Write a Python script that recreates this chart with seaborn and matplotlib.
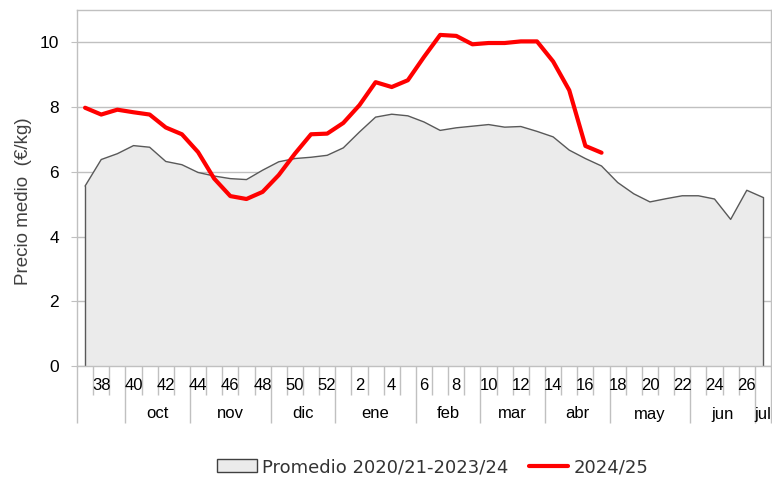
import numpy as np
import pandas as pd
import matplotlib
matplotlib.use("Agg")
import matplotlib.pyplot as plt
import seaborn as sns
from matplotlib.patches import Patch
from matplotlib.lines import Line2D
import matplotlib.transforms as mtrans

weeks = list(range(37, 53)) + list(range(1, 28))
avg = [5.56, 6.38, 6.56, 6.81, 6.76, 6.32, 6.22, 5.98, 5.87, 5.79, 5.76, 6.05,
       6.31, 6.41, 6.45, 6.51, 6.74, 7.23, 7.69, 7.78, 7.73, 7.54, 7.28, 7.36,
       7.41, 7.46, 7.38, 7.40, 7.25, 7.08, 6.67, 6.41, 6.18, 5.67, 5.32, 5.07,
       5.17, 5.26, 5.26, 5.16, 4.53, 5.43, 5.21]
cur = [7.98, 7.77, 7.92, 7.84, 7.77, 7.37, 7.16, 6.61, 5.79, 5.25, 5.16, 5.38,
       5.90, 6.56, 7.16, 7.18, 7.51, 8.06, 8.77, 8.62, 8.83, 9.55, 10.23, 10.20,
       9.94, 9.98, 9.98, 10.03, 10.03, 9.41, 8.52, 6.80, 6.59]
months = ["", "oct", "nov", "dic", "ene", "feb", "mar", "abr", "may", "jun", "jul"]
month_weeks = [3, 4, 5, 4, 5, 4, 4, 4, 5, 4, 1]  # number of weeks per month block

labels = ["Promedio 2020/21-2023/24", "2024/25"]

sns.set_style("white")
plt.rcParams["font.family"] = ["Liberation Sans", "DejaVu Sans"]

idx = np.arange(len(weeks))
df_avg = pd.DataFrame({"i": idx, "v": avg})
df_cur = pd.DataFrame({"i": idx[:len(cur)], "v": cur})

fig = plt.figure(figsize=(7.72, 4.78), dpi=100)
ax = fig.add_axes([77 / 772, 1 - 366 / 478, 694 / 772, 356 / 478])

grid_c = "#c0c0c0"
ax.fill_between(idx, avg, 0, color="#ebebeb", edgecolor="none", zorder=1)
ax.plot([idx[0], idx[0]], [0, avg[0]], color="#595959", lw=1, zorder=2)
ax.plot([idx[-1], idx[-1]], [0, avg[-1]], color="#595959", lw=1, zorder=2)
sns.lineplot(data=df_avg, x="i", y="v", ax=ax, color="#595959", lw=1, zorder=2)
sns.lineplot(data=df_cur, x="i", y="v", ax=ax, color="#ff0000", lw=3, zorder=3)

ax.set_xlim(-0.5, len(weeks) - 0.5)
ax.set_ylim(0, 11)
ax.set_yticks([0, 2, 4, 6, 8, 10])
ax.set_yticklabels(["0", "2", "4", "6", "8", "10"], fontsize=12.5, color="#000000")
ax.yaxis.grid(True, color=grid_c, lw=1)
ax.set_axisbelow(True)
ax.tick_params(axis="y", length=4, color=grid_c, pad=9, left=True)
for s in ax.spines.values():
    s.set_color(grid_c)
    s.set_linewidth(1)
ax.set_ylabel("Precio medio  (€/kg)", fontsize=13.5, color="#404040")
ax.yaxis.set_label_coords(-0.065, 0.463)
ax.set_xlabel("")

# x ticks: week boundaries (minor) and month boundaries (major)
bounds = np.cumsum([0] + month_weeks) - 0.5
ax.set_xticks(bounds)
ax.set_xticklabels([])
ax.set_xticks(idx[:-1] + 0.5, minor=True)
ax.tick_params(axis="x", which="major", length=41, color=grid_c, width=1, bottom=True)
ax.tick_params(axis="x", which="minor", length=21, color=grid_c, width=1, bottom=True)

trans = mtrans.blended_transform_factory(ax.transData, fig.transFigure)
for i, w in zip(idx, weeks):
    if w % 2 == 0:
        ax.text(i, 1 - 385 / 478, str(w), transform=trans, ha="center", va="center",
                fontsize=12, color="#000000")
for k, m in enumerate(months):
    if m:
        c = (bounds[k] + bounds[k + 1]) / 2
        ax.text(c, 1 - 414 / 478, m, transform=trans, ha="center", va="center",
                fontsize=12, color="#000000")

handles = [Patch(facecolor="#ebebeb", edgecolor="#404040", lw=1),
           Line2D([0], [0], color="#ff0000", lw=3)]
fig.legend(handles, labels, loc="center", bbox_to_anchor=(433 / 772, 1 - 467 / 478),
           ncol=2, frameon=False, handlelength=2.2, handletextpad=0.3,
           columnspacing=1.1, labelcolor="#333333",
           prop={"family": ["DejaVu Sans"], "size": 13})

fig.savefig("out.png", dpi=100)
